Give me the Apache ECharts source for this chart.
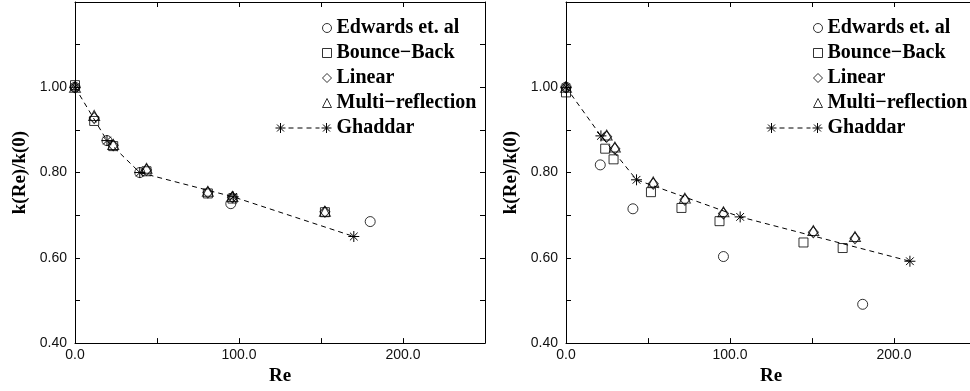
<!DOCTYPE html>
<html>
<head>
<meta charset="utf-8">
<script src="https://cdn.jsdelivr.net/npm/echarts@6/dist/echarts.min.js"></script>
<style>
  html, body { margin: 0; padding: 0; background: #fff; overflow: hidden; }
  #chart { width: 980px; height: 391px; }
</style>
</head>
<body>
<div id="chart"></div>
<script>
// ---- Left panel: k(Re)/k(0) versus Re ----
const L_edwardsRe = [0, 19.5, 39.5, 95, 180];
const L_edwardsK  = [1.0, 0.875, 0.800, 0.727, 0.685];

const L_modelRe   = [0, 11.7, 23.3, 43.6, 81, 96, 152.4];
const L_bounceK   = [1.005, 0.921, 0.862, 0.803, 0.751, 0.739, 0.707];
const L_linearK   = [1.0, 0.928, 0.864, 0.806, 0.753, 0.742, 0.708];
const L_multiK    = [1.0, 0.934, 0.866, 0.810, 0.756, 0.744, 0.709];

const L_ghaddarRe = [0, 19.5, 39.5, 96.5, 170];
const L_ghaddarK  = [1.0, 0.875, 0.800, 0.743, 0.650];

// ---- Right panel ----
const R_edwardsRe = [0, 20.9, 40.8, 96.0, 180.9];
const R_edwardsK  = [1.0, 0.818, 0.715, 0.603, 0.491];

const R_bounceRe  = [0, 23.9, 29.0, 51.8, 70.4, 93.6, 144.8, 168.7];
const R_bounceK   = [0.988, 0.856, 0.831, 0.754, 0.717, 0.686, 0.636, 0.623];

const R_modelRe   = [0, 24.8, 29.8, 53.2, 72.5, 96.0, 150.8, 176.2];
const R_linearK   = [1.0, 0.884, 0.856, 0.774, 0.736, 0.704, 0.660, 0.646];
const R_multiK    = [1.0, 0.888, 0.860, 0.778, 0.740, 0.708, 0.664, 0.650];

const R_ghaddarRe = [0, 21.3, 43.0, 106.2, 209.7];
const R_ghaddarK  = [1.0, 0.886, 0.783, 0.696, 0.592];

// axis settings
const reMin = 0, reMax = 250, reStep = 50;
const kMin = 0.4, kMax = 1.2, kStep = 0.1;
const seriesNames = ['Edwards et. al', 'Bounce\u2212Back', 'Linear', 'Multi\u2212reflection', 'Ghaddar'];

const pairs = (xs, ys) => xs.map((x, i) => [x, ys[i]]);

const STAR = 'path://M5,0L5,10M0,5L10,5M1.5,1.5L8.5,8.5M1.5,8.5L8.5,1.5';
// legend sample: star, dashes, star
const GHADDAR_ICON = 'path://M5,0L5,10M0,5L10,5M1.5,1.5L8.5,8.5M1.5,8.5L8.5,1.5' +
  'M13,5L18,5M22,5L27,5M31,5L36,5M40,5L44,5' +
  'M51,0L51,10M46,5L56,5M47.5,1.5L54.5,8.5M47.5,8.5L54.5,1.5';

const LABEL_FONT = 'Liberation Sans, Arial, sans-serif';
const TITLE_FONT = 'Liberation Serif, Times New Roman, serif';

const hollow = { color: 'rgba(0,0,0,0)', borderColor: '#000', borderWidth: 1 };

function xAxes(gridIndex) {
  const common = {
    gridIndex, type: 'value', min: reMin, max: reMax, interval: reStep,
    axisLine: { show: true, onZero: false, lineStyle: { color: '#000', width: 1 } },
    axisTick: { show: true, inside: true, length: 5, lineStyle: { color: '#000' } },
    splitLine: { show: false }
  };
  return [
    Object.assign({}, common, {
      position: 'bottom',
      name: 'Re', nameLocation: 'middle', nameGap: 17,
      nameTextStyle: { fontFamily: TITLE_FONT, fontWeight: 'bold', fontSize: 19, color: '#000' },
      axisLabel: {
        margin: 5, fontFamily: LABEL_FONT, fontSize: 14, color: '#111',
        formatter: v => (Math.round(v) % 100 === 0 && v < reMax) ? v.toFixed(1) : ''
      }
    }),
    Object.assign({}, common, { position: 'top', axisLabel: { show: false } })
  ];
}

function yAxes(gridIndex) {
  const common = {
    gridIndex, type: 'value', min: kMin, max: kMax, interval: kStep,
    axisLine: { show: true, onZero: false, lineStyle: { color: '#000', width: 1 } },
    axisTick: { show: true, inside: true, length: 5, lineStyle: { color: '#000' } },
    splitLine: { show: false }
  };
  return [
    Object.assign({}, common, {
      position: 'left',
      name: 'k(Re)/k(0)', nameLocation: 'middle', nameGap: 45,
      nameTextStyle: { fontFamily: TITLE_FONT, fontWeight: 'bold', fontSize: 19, color: '#000' },
      axisLabel: {
        margin: 8, fontFamily: LABEL_FONT, fontSize: 14, color: '#111',
        formatter: v => {
          const t = Math.round(v * 10);
          return (t % 2 === 0 && t <= 10) ? v.toFixed(2) : '';
        }
      }
    }),
    Object.assign({}, common, { position: 'right', axisLabel: { show: false } })
  ];
}

function panelSeries(p, data) {
  const ax = p * 2;
  return [
    { name: seriesNames[0], type: 'scatter', xAxisIndex: ax, yAxisIndex: ax,
      symbol: 'circle', symbolSize: 10, itemStyle: hollow, data: data.edwards, z: 3 },
    { name: seriesNames[1], type: 'scatter', xAxisIndex: ax, yAxisIndex: ax,
      symbol: 'rect', symbolSize: 9, itemStyle: hollow, data: data.bounce, z: 3 },
    { name: seriesNames[2], type: 'scatter', xAxisIndex: ax, yAxisIndex: ax,
      symbol: 'diamond', symbolSize: [10, 11], itemStyle: hollow, data: data.linear, z: 3 },
    { name: seriesNames[3], type: 'scatter', xAxisIndex: ax, yAxisIndex: ax,
      symbol: 'triangle', symbolSize: [11, 10], itemStyle: hollow, data: data.multi, z: 3 },
    { name: seriesNames[4], type: 'line', xAxisIndex: ax, yAxisIndex: ax,
      symbol: STAR, symbolSize: 11, showSymbol: true,
      itemStyle: { color: 'rgba(0,0,0,0)', borderColor: '#000', borderWidth: 1 },
      lineStyle: { color: '#000', width: 1, type: [5, 4] },
      data: data.ghaddar, z: 2 }
  ];
}

function panelLegends(left) {
  const text = { fontFamily: TITLE_FONT, fontWeight: 'bold', fontSize: 20, color: '#000', lineHeight: 20 };
  return [
    { orient: 'vertical', left: left + 247, top: 18, padding: 0, itemGap: 5,
      itemWidth: 9, itemHeight: 9, selectedMode: false, textStyle: text,
      itemStyle: { color: 'rgba(0,0,0,0)', borderColor: '#000', borderWidth: 1 },
      data: seriesNames.slice(0, 4) },
    { orient: 'vertical', left: left + 200, top: 18 + 4 * 25, padding: 0,
      itemWidth: 56, itemHeight: 10, selectedMode: false, textStyle: text,
      itemStyle: { color: 'rgba(0,0,0,0)', borderColor: '#000', borderWidth: 1 },
      lineStyle: { color: '#000', width: 1 },
      data: [{ name: seriesNames[4], icon: GHADDAR_ICON }] }
  ];
}

const chart = echarts.init(document.getElementById('chart'), null, { renderer: 'canvas' });
chart.setOption({
  animation: false,
  backgroundColor: '#fff',
  grid: [
    { left: 75, top: 2, width: 410, height: 344 },
    { left: 566, top: 2, width: 410, height: 344 }
  ],
  xAxis: xAxes(0).concat(xAxes(1)),
  yAxis: yAxes(0).concat(yAxes(1)),
  legend: panelLegends(75).concat(panelLegends(566)),
  series: panelSeries(0, {
    edwards: pairs(L_edwardsRe, L_edwardsK),
    bounce: pairs(L_modelRe, L_bounceK),
    linear: pairs(L_modelRe, L_linearK),
    multi: pairs(L_modelRe, L_multiK),
    ghaddar: pairs(L_ghaddarRe, L_ghaddarK)
  }).concat(panelSeries(1, {
    edwards: pairs(R_edwardsRe, R_edwardsK),
    bounce: pairs(R_bounceRe, R_bounceK),
    linear: pairs(R_modelRe, R_linearK),
    multi: pairs(R_modelRe, R_multiK),
    ghaddar: pairs(R_ghaddarRe, R_ghaddarK)
  }))
});
</script>
</body>
</html>
